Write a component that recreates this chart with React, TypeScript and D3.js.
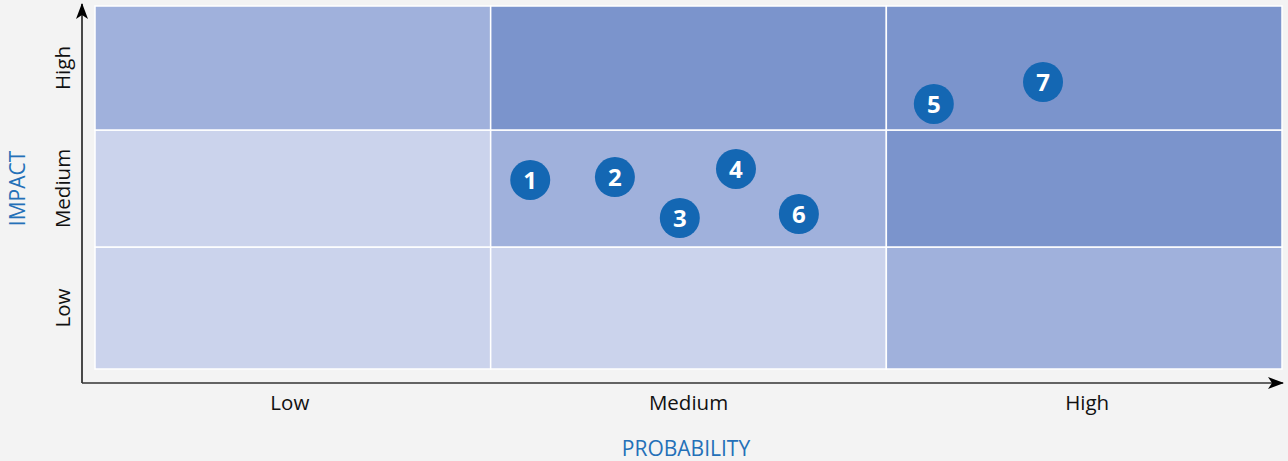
import React, { useEffect, useRef } from "react";
import * as d3 from "d3";

// levels on both axes
const levels = ["Low", "Medium", "High"];

// shade per cell, rows from Low impact upward, columns Low..High probability
const cellShades = [
  [0, 0, 1], // impact Low
  [0, 1, 2], // impact Medium
  [1, 2, 2], // impact High
];
const shadeColors = ["#cbd3ec", "#a0b1dc", "#7b94cc"];

// risks: probability / impact on a 0..3 scale
const riskIds = [1, 2, 3, 4, 5, 6, 7];
const riskProbability = [1.1, 1.314, 1.478, 1.62, 2.12, 1.779, 2.396];
const riskImpact = [1.573, 1.598, 1.248, 1.667, 2.21, 1.282, 2.387];

const W = 1288;
const H = 461;

const App = () => {
  const ref = useRef(null);

  useEffect(() => {
    document.body.style.margin = "0";
    const svg = d3.select(ref.current);
    svg.selectAll("*").remove();

    const x = d3.scaleLinear().domain([0, 3]).range([95, 1282]);
    // rows are not quite equal in the original
    const y = d3.scaleLinear().domain([0, 1, 2, 3]).range([369, 247, 130, 6]);

    const defs = svg.append("defs");
    const f = defs.append("filter").attr("id", "paper").attr("x", 0).attr("y", 0).attr("width", "100%").attr("height", "100%");
    f.append("feTurbulence").attr("type", "fractalNoise").attr("baseFrequency", "0.012 0.05").attr("numOctaves", 4).attr("seed", 3).attr("result", "n");
    f.append("feColorMatrix").attr("in", "n").attr("type", "matrix")
      .attr("values", "0 0 0 0 0.9  0 0 0 0 0.9  0 0 0 0 0.9  1.2 0 0 0 -0.35");
    defs.append("marker").attr("id", "arrow").attr("viewBox", "0 0 16 12")
      .attr("refX", 15).attr("refY", 6).attr("markerWidth", 16).attr("markerHeight", 12)
      .attr("markerUnits", "userSpaceOnUse").attr("orient", "auto")
      .append("path").attr("d", "M0,0 L16,6 L0,12 L4,6 Z").attr("fill", "#000");

    svg.append("rect").attr("width", W).attr("height", H).attr("fill", "#f3f3f3");
    svg.append("rect").attr("width", W).attr("height", H).attr("filter", "url(#paper)");

    // grid cells
    cellShades.forEach((row, ri) => {
      row.forEach((s, ci) => {
        svg.append("rect")
          .attr("x", x(ci))
          .attr("y", y(ri + 1))
          .attr("width", x(ci + 1) - x(ci))
          .attr("height", y(ri) - y(ri + 1))
          .attr("fill", shadeColors[s])
          .attr("stroke", "#ffffff")
          .attr("stroke-width", 1.5);
      });
    });

    // axes
    const ax = 82, ay = 383;
    svg.append("line").attr("x1", ax).attr("y1", ay).attr("x2", ax).attr("y2", 4)
      .attr("stroke", "#111").attr("stroke-width", 1.5).attr("marker-end", "url(#arrow)");
    svg.append("line").attr("x1", ax).attr("y1", ay).attr("x2", 1283).attr("y2", ay)
      .attr("stroke", "#333").attr("stroke-width", 1.5).attr("marker-end", "url(#arrow)");

    const font = "'Open Sans', sans-serif";
    levels.forEach((l, i) => {
      svg.append("text")
        .attr("x", x(i + 0.5) + (i - 1) * 3)
        .attr("y", 410)
        .attr("text-anchor", "middle")
        .attr("font-family", font)
        .attr("font-size", 20.5)
        .attr("fill", "#111")
        .text(l);
      svg.append("text")
        .attr("transform", `translate(70,${y(i + 0.5)}) rotate(-90)`)
        .attr("text-anchor", "middle")
        .attr("font-family", font)
        .attr("font-size", 20.5)
        .attr("fill", "#111")
        .text(l);
    });

    svg.append("text").attr("x", 686).attr("y", 456).attr("text-anchor", "middle")
      .attr("font-family", font).attr("font-size", 21).attr("fill", "#2470b8").text("PROBABILITY");
    svg.append("text").attr("transform", `translate(25,${y(1.5)}) rotate(-90)`).attr("text-anchor", "middle")
      .attr("font-family", font).attr("font-size", 21).attr("fill", "#2470b8").text("IMPACT");

    // risks
    const g = svg.selectAll(".risk").data(riskIds).enter().append("g")
      .attr("class", "risk")
      .attr("transform", (d, i) => `translate(${x(riskProbability[i])},${y(riskImpact[i])})`);
    g.append("circle").attr("r", 20).attr("fill", "#1467b3");
    g.append("text").attr("text-anchor", "middle").attr("dy", "0.36em")
      .attr("font-family", font).attr("font-weight", 700).attr("font-size", 24)
      .attr("fill", "#fff").text((d) => d);
  }, []);

  return <svg ref={ref} width={W} height={H} style={{ display: "block" }} />;
};

export default App;
